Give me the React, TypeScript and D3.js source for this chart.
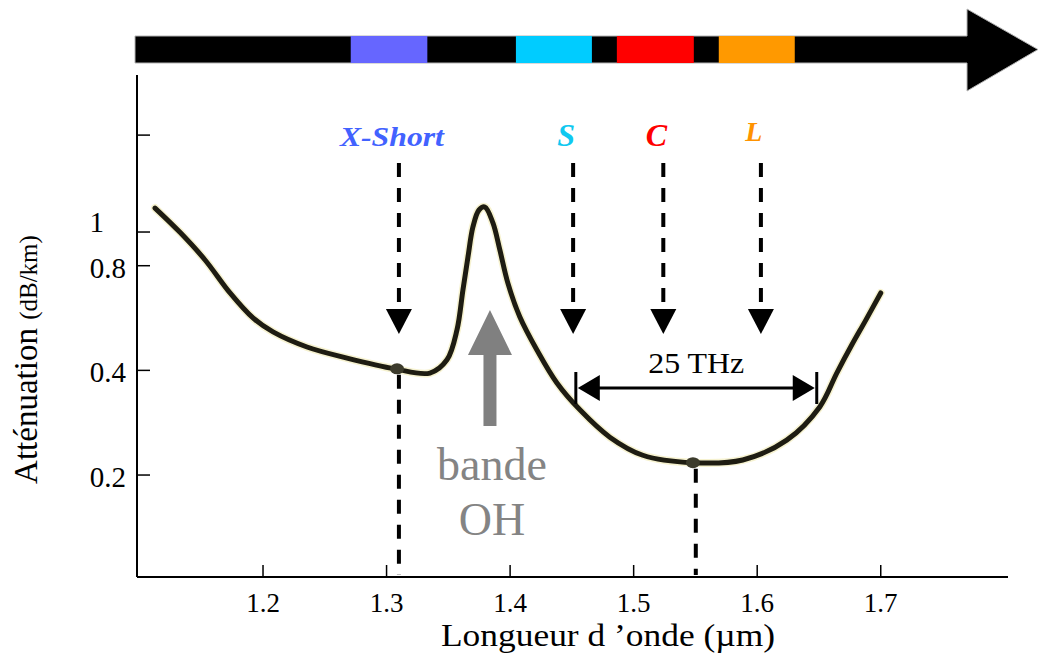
import React, { useMemo } from 'react';
import * as d3 from 'd3';

// attenuation curve (µm, dB/km)
const wavelength = [1.1126, 1.1328, 1.1531, 1.1733, 1.1919, 1.2081, 1.2356, 1.268, 1.3068, 1.3351, 1.3489, 1.357, 1.3618, 1.3659, 1.3699, 1.3748, 1.3796, 1.3861, 1.3917, 1.3982, 1.4079, 1.4217, 1.4379, 1.4565, 1.4807, 1.5074, 1.5479, 1.5883, 1.6239, 1.6506, 1.6644, 1.6765, 1.6879, 1.7];
const attenuation = [1.172, 0.998, 0.831, 0.668, 0.566, 0.516, 0.467, 0.434, 0.404, 0.393, 0.429, 0.523, 0.681, 0.848, 1.034, 1.157, 1.18, 1.062, 0.888, 0.713, 0.57, 0.458, 0.368, 0.308, 0.257, 0.228, 0.217, 0.221, 0.252, 0.314, 0.393, 0.473, 0.558, 0.668];

const xTicks = [1.2, 1.3, 1.4, 1.5, 1.6, 1.7];
const yTicks = [0.2, 0.4, 0.8, 1, 1.9];
const yTickLabels = ['0.2', '0.4', '0.8', '1', ''];

// bands on the top bar and their arrows
const bandNames = ['X-Short', 'S', 'C', 'L'];
const bandColors = ['#6666ff', '#00ccff', '#ff0000', '#ff9900'];
const bandLabelColors = ['#4262ff', '#10c8f0', '#ff0000', '#ff9300'];
const bandStart = [1.271, 1.4047, 1.4864, 1.5689];
const bandEnd = [1.333, 1.4662, 1.5487, 1.6304];
const bandArrowAt = [1.31, 1.451, 1.524, 1.603];

const markerAt = [1.3085, 1.548];
const markerVal = [0.404, 0.217];
const dropLineAt = [1.31, 1.5503];
const spanFrom = 1.4532;
const spanTo = 1.6482;
const ohPeak = 1.3837;

const serif = '"Liberation Serif", "Times New Roman", Times, serif';

export default function App() {
  const W = 1038, H = 654;
  const left = 137, right = 1008, top = 75, bottom = 577;

  const x = useMemo(() => d3.scaleLinear().domain([1.098, 1.803]).range([left, right]), []);
  const y = useMemo(() => d3.scaleLog().domain([0.1018, 2.829]).range([bottom, top]), []);

  const curve = d3.line<number>()
    .x((_, i) => x(wavelength[i]))
    .y(d => y(d))
    .curve(d3.curveCatmullRom.alpha(0.5))(attenuation) || '';

  // top bar
  const barL = 135, barR = 967, barT = 36, barB = 63, tipX = 1038;
  const barPath = `M${barL},${barT}H${barR}V9L${tipX},49.5L${barR},91V${barB}H${barL}Z`;

  const arrowTop = 163, arrowTip = 334, headLen = 25, headHalf = 13;

  const spanY = 388;
  const sx0 = x(spanFrom), sx1 = x(spanTo);

  const ox = x(ohPeak);
  const ohArrow = `M${ox},310L${ox + 22},355L${ox + 6.5},355L${ox + 6.5},426L${ox - 6.5},426L${ox - 6.5},355L${ox - 22},355Z`;

  return (
    <svg width={W} height={H} style={{ position: 'absolute', left: 0, top: 0, background: '#fff' }}>
      {/* spectrum bar */}
      <path d={barPath} fill="#000" stroke="#b4b4b4" strokeWidth={1} />
      {bandNames.map((n, i) => (
        <rect key={n} x={x(bandStart[i])} y={barT} width={x(bandEnd[i]) - x(bandStart[i])} height={barB - barT} fill={bandColors[i]} />
      ))}

      {/* axes */}
      <line x1={left} x2={left} y1={top} y2={bottom} stroke="#000" strokeWidth={2} />
      <line x1={left} x2={right} y1={bottom} y2={bottom} stroke="#000" strokeWidth={2} />
      {xTicks.map(t => (
        <g key={t}>
          <line x1={x(t)} x2={x(t)} y1={bottom} y2={bottom - 12} stroke="#000" strokeWidth={1.5} />
          <text x={x(t)} y={612} textAnchor="middle" fontFamily={serif} fontSize={27}>{t.toFixed(1)}</text>
        </g>
      ))}
      {yTicks.map((t, i) => (
        <g key={t}>
          <line x1={left} x2={left + 13} y1={y(t)} y2={y(t)} stroke="#000" strokeWidth={1.5} />
          <text x={t === 1 ? 104 : 126} y={y(t) + (t === 1 ? 0 : 12)} textAnchor="end" fontFamily={serif} fontSize={29}>{yTickLabels[i]}</text>
        </g>
      ))}
      <text x={608} y={646} textAnchor="middle" fontFamily={serif} fontSize={31} textLength={334} lengthAdjust="spacingAndGlyphs">Longueur d ’onde  (µm)</text>
      <text transform={`translate(37,${(232 + 487) / 2}) rotate(-90)`} textAnchor="middle" fontFamily={serif} fontSize={33}>
        Atténuation <tspan fontSize={25}>(dB/km)</tspan>
      </text>

      {/* band arrows and labels */}
      {bandNames.map((n, i) => {
        const ax = x(bandArrowAt[i]);
        return (
          <g key={n}>
            <line x1={ax} x2={ax} y1={arrowTop} y2={arrowTip - headLen + 2} stroke="#000" strokeWidth={4} strokeDasharray="14,11" />
            <path d={`M${ax - headHalf},${arrowTip - headLen}L${ax + headHalf},${arrowTip - headLen}L${ax},${arrowTip}Z`} fill="#000" />
            <text x={ax - 7} y={i === 3 ? 141 : 146} textAnchor="middle" fontFamily={serif} fontWeight="bold" fontStyle="italic"
              fontSize={i === 0 ? 28 : i === 3 ? 28 : 32} fill={bandLabelColors[i]}
              textLength={i === 0 ? 104 : undefined} lengthAdjust="spacingAndGlyphs">{n}</text>
          </g>
        );
      })}

      {/* drop lines */}
      {dropLineAt.map((w, i) => (
        <line key={w} x1={x(w)} x2={x(w)} y1={y(markerVal[i]) + 6} y2={bottom - 2} stroke="#000" strokeWidth={4} strokeDasharray="14,11" />
      ))}

      {/* curve */}
      <path d={curve} fill="none" stroke="#f4efc4" strokeWidth={8} strokeLinecap="round" opacity={0.8} />
      <path d={curve} fill="none" stroke="#1e1c12" strokeWidth={5} strokeLinecap="round" />
      {markerAt.map((w, i) => (
        <ellipse key={w} cx={x(w)} cy={y(markerVal[i])} rx={7} ry={5.5} fill="#3c3b2c" />
      ))}

      {/* OH band */}
      <path d={ohArrow} fill="#808080" />
      <text x={ox + 2} y={480} textAnchor="middle" fontFamily={serif} fontSize={46} fill="#848484">bande</text>
      <text x={ox + 2} y={535} textAnchor="middle" fontFamily={serif} fontSize={46} fill="#848484">OH</text>

      {/* 25 THz span */}
      <line x1={sx0} x2={sx0} y1={spanY - 16} y2={spanY + 16} stroke="#000" strokeWidth={3} />
      <line x1={sx1} x2={sx1} y1={spanY - 16} y2={spanY + 16} stroke="#000" strokeWidth={3} />
      <line x1={sx0 + 10} x2={sx1 - 10} y1={spanY} y2={spanY} stroke="#000" strokeWidth={3} />
      <path d={`M${sx0 + 2},${spanY}L${sx0 + 24},${spanY - 13}L${sx0 + 24},${spanY + 13}Z`} fill="#000" />
      <path d={`M${sx1 - 2},${spanY}L${sx1 - 24},${spanY - 13}L${sx1 - 24},${spanY + 13}Z`} fill="#000" />
      <text x={(sx0 + sx1) / 2} y={373} textAnchor="middle" fontFamily={serif} fontSize={30} textLength={96} lengthAdjust="spacingAndGlyphs">25 THz</text>
    </svg>
  );
}
